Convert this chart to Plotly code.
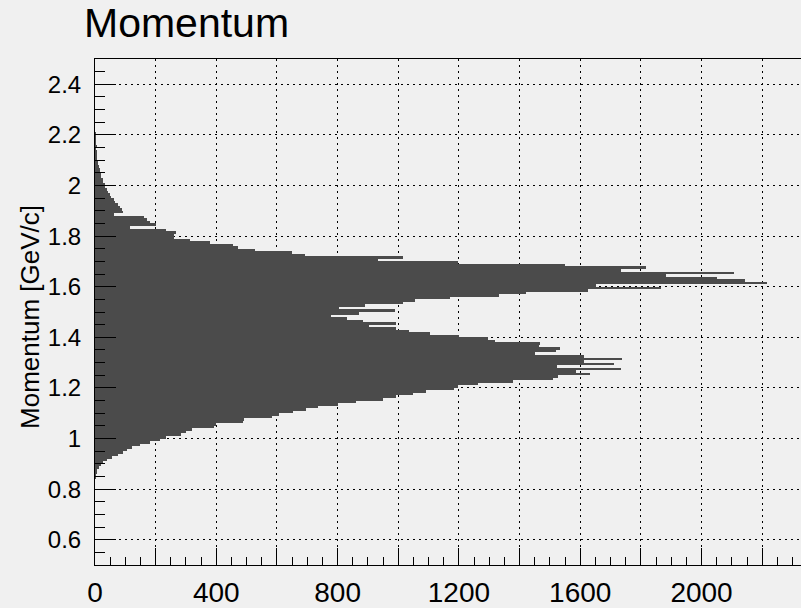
import numpy as np
import plotly.graph_objects as go

# Momentum histogram: 0.01 GeV/c bins, first filled bin starts at 0.84 GeV/c
bin_width = 0.01
first_edge = 0.84
counts = [
    1, 2, 4, 7, 12, 19, 27, 41, 55, 76,                      # 0.84 - 0.93
    91, 106, 121, 148, 182, 213, 234, 283, 300, 321,         # 0.94 - 1.03
    393, 398, 487, 492, 585, 608, 652, 696, 734, 800,        # 1.04 - 1.13
    861, 949, 991, 1048, 1090, 1185, 1196, 1262, 1378, 1509, # 1.14 - 1.23
    1526, 1631, 1585, 1733, 1524, 1710, 1614, 1739, 1611, 1450,  # 1.24 - 1.33
    1521, 1532, 1463, 1466, 1320, 1295, 1199, 1103, 1034, 993,   # 1.34 - 1.43
    905, 993, 884, 830, 779, 872, 990, 806, 889, 1017,           # 1.44 - 1.53
    1054, 1169, 1332, 1420, 1625, 1866, 1652, 2215, 2142, 2050,  # 1.54 - 1.63
    1883, 2108, 1736, 1818, 1549, 1198, 933, 1017, 694, 648,     # 1.64 - 1.73
    529, 470, 456, 378, 312, 259, 262, 268, 235, 114,            # 1.74 - 1.83
    202, 180, 170, 163, 64, 91, 88, 81, 75, 66,                  # 1.84 - 1.93
    61, 52, 50, 43, 41, 34, 33, 27, 26, 20,                      # 1.94 - 2.03
    20, 15, 15, 12, 10, 10, 7, 7, 4, 5,                          # 2.04 - 2.13
    3, 4, 2, 2, 1, 2, 1,                                         # 2.14 - 2.20
]

x_tick_values = [0, 200, 400, 600, 800, 1000, 1200, 1400, 1600, 1800, 2000, 2200]
x_tick_labels = ["0", "", "400", "", "800", "", "1200", "", "1600", "", "2000", ""]
y_tick_values = [0.6, 0.8, 1.0, 1.2, 1.4, 1.6, 1.8, 2.0, 2.2, 2.4]
y_tick_labels = ["0.6", "0.8", "1", "1.2", "1.4", "1.6", "1.8", "2", "2.2", "2.4"]

title_text = "Momentum"
y_title_text = "Momentum [GeV/c]"

centers = first_edge + bin_width * (np.arange(len(counts)) + 0.5)

W, H = 801, 608
ML, MR, MT, MB = 95, 0, 59, 33
BG = "#f0f0f0"
FILL = "#4b4b4b"
FONT = "Liberation Sans, Arial, Helvetica, sans-serif"
GRID_DASH = "2px,4px"

fig = go.Figure(
    go.Bar(
        y=centers,
        x=counts,
        orientation="h",
        width=bin_width,
        marker=dict(color=FILL, line=dict(width=0)),
        hoverinfo="skip",
    )
)

fig.update_layout(
    width=W,
    height=H,
    margin=dict(l=ML, r=MR, t=MT, b=MB, pad=0),
    paper_bgcolor=BG,
    plot_bgcolor=BG,
    bargap=0,
    showlegend=False,
    title=dict(
        text=title_text,
        font=dict(family=FONT, size=41, color="black"),
        xref="container", x=84 / W, xanchor="left",
        yref="container", y=1 - 23 / H, yanchor="middle",
    ),
)

fig.update_xaxes(
    range=[0, 2328],
    tickmode="array",
    tickvals=x_tick_values,
    ticktext=x_tick_labels,
    ticks="inside",
    ticklen=17,
    tickwidth=1,
    tickcolor="black",
    tickfont=dict(family=FONT, size=28, color="black"),
    ticklabelstandoff=2,
    showline=True,
    linecolor="black",
    linewidth=1,
    mirror=True,
    showgrid=True,
    gridcolor="black",
    gridwidth=1,
    griddash=GRID_DASH,
    zeroline=False,
    minor=dict(
        tickmode="linear", tick0=0, dtick=50,
        ticks="inside", ticklen=8, tickwidth=1, tickcolor="black",
        showgrid=False,
    ),
)

fig.update_yaxes(
    range=[0.5, 2.5],
    tickmode="array",
    tickvals=y_tick_values,
    ticktext=y_tick_labels,
    ticks="inside",
    ticklen=21,
    tickwidth=1,
    tickcolor="black",
    tickfont=dict(family=FONT, size=24, color="black"),
    ticklabelstandoff=8,
    showline=True,
    linecolor="black",
    linewidth=1,
    mirror=False,
    showgrid=True,
    gridcolor="black",
    gridwidth=1,
    griddash=GRID_DASH,
    zeroline=False,
    minor=dict(
        tickmode="linear", tick0=0.5, dtick=0.05,
        ticks="inside", ticklen=10, tickwidth=1, tickcolor="black",
        showgrid=False,
    ),
)

plot_w = W - ML - MR
plot_h = H - MT - MB
fig.add_annotation(
    text=y_title_text,
    textangle=-90,
    xref="paper", x=(30 - ML) / plot_w, xanchor="center",
    yref="paper", y=(H - MB - 322) / plot_h, yanchor="middle",
    showarrow=False,
    font=dict(family=FONT, size=26, color="black"),
)

fig.write_html("out.html")
